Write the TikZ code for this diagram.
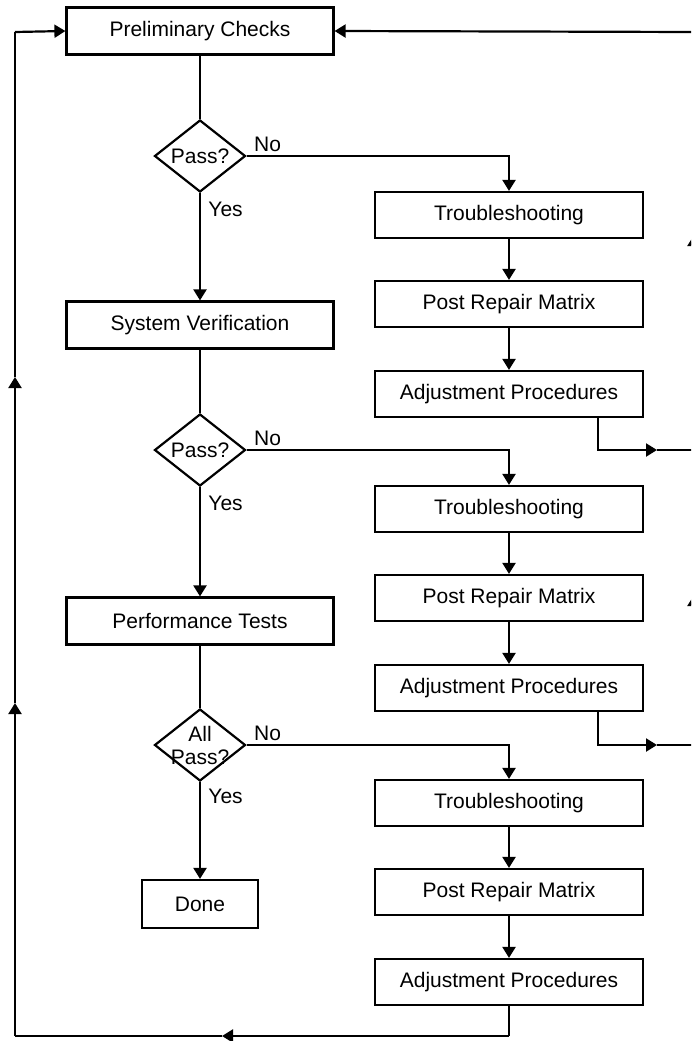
\documentclass[tikz,border=0pt]{standalone}
\usepackage{fontspec}
\setmainfont{Liberation Sans}
\usetikzlibrary{shapes.geometric, arrows.meta}

\tikzset{
  every node/.style={font=\fontsize{21pt}{23pt}\selectfont},
  block/.style={draw, line width=2.2pt, minimum width=267pt, minimum height=47pt, inner sep=0pt},
  smallblock/.style={block, minimum width=116pt, minimum height=48pt},
  decision/.style={draw, diamond, line width=2.2pt, minimum width=91pt, minimum height=72pt, inner sep=0pt},
  line/.style={line width=2.2pt},
  arr/.style={line width=2.2pt, -{Triangle[length=11pt,width=13pt]}},
}

\begin{document}
\begin{tikzpicture}[x=1pt, y=-1pt]
\useasboundingbox (0,0) rectangle (691,1041);
\clip (0,0) rectangle (691,1041);

% main column
\node [block] (prelim) at (200,31) {Preliminary Checks};
\node [decision, label=center:Pass?] (pass1) at (200,156) {};
\node [block] (sysver) at (200,325) {System Verification};
\node [decision, label=center:Pass?] (pass2) at (200,450) {};
\node [block] (perf) at (200,621) {Performance Tests};
\node [decision, label={[align=center]center:All\\Pass?}] (pass3) at (200,745) {};
\node [smallblock] (done) at (200,904) {Done};

% repair columns
\foreach \i/\y in {1/215, 2/509, 3/803} {
  \node [block, minimum width=268pt, minimum height=46pt] (trouble\i) at (509,\y) {Troubleshooting};
  \node [block, minimum width=268pt, minimum height=46pt] (matrix\i) at (509,\y+89) {Post Repair Matrix};
  \node [block, minimum width=268pt, minimum height=46pt] (adjust\i) at (509,\y+179) {Adjustment Procedures};
}

% loop corners
\coordinate (bl) at (15,1036);
\coordinate (br) at (509,1036);
\coordinate (rtop) at (694,32);
\coordinate (ltop) at (15,32);

% main flow
\draw [line] (prelim) -- (pass1);
\draw [arr] (pass1) -- node [pos=0.15, right, xshift=4pt] {Yes} (sysver);
\draw [line] (sysver) -- (pass2);
\draw [arr] (pass2) -- node [pos=0.15, right, xshift=4pt] {Yes} (perf);
\draw [line] (perf) -- (pass3);
\draw [arr] (pass3) -- node [pos=0.15, right, xshift=4pt] {Yes} (done);

% no branches
\foreach \i in {1, 2, 3}
  \draw [arr] (pass\i.east) -| node [pos=0.04, above] {No} (trouble\i.north);

\foreach \i in {1, 2, 3} {
  \draw [arr] (trouble\i) -- (matrix\i);
  \draw [arr] (matrix\i) -- (adjust\i);
}

% back to the checks
\foreach \i/\y in {1/450, 2/745} {
  \draw [arr] ([xshift=89pt]adjust\i.south) |- (657,\y);
  \draw [line] (657,\y) -- (694,\y);
}
\draw [arr] (694,745) -- (694,595);
\draw [arr] (694,595) -- (694,235);
\draw [line] (694,235) -- (rtop);
\draw [arr] (rtop) -- (prelim.east);

% last loop
\draw [line] (adjust3.south) -- (br);
\draw [arr] (br) -- (222,1036);
\draw [line] (222,1036) -- (bl);
\draw [arr] (bl) -- (15,703);
\draw [arr] (15,703) -- (15,377);
\draw [line] (15,377) -- (ltop);
\draw [arr] (ltop) -- (prelim.west);
\end{tikzpicture}
\end{document}
